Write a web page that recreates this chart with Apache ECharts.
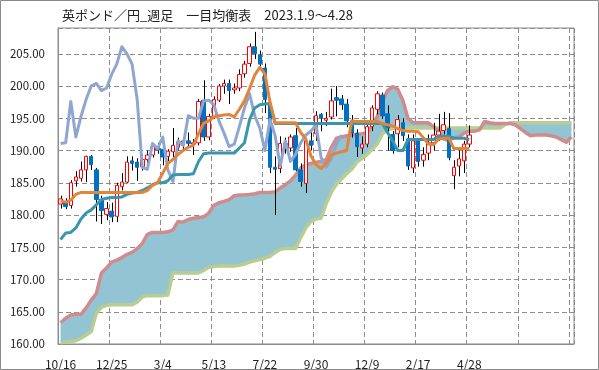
<!DOCTYPE html>
<html><head><meta charset="utf-8">
<script src="https://cdn.jsdelivr.net/npm/echarts@6/dist/echarts.min.js"></script>
<style>html,body{margin:0;padding:0;background:#fff}#c{width:599px;height:370px}</style>
</head><body><div id="c"></div>
<script>
// x-axis tick labels (every 10 weeks from 2023/10/16)
const tickLabels = ['10/16','12/25','3/4','5/13','7/22','9/30','12/9','2/17','4/28'];
const totalSlots = 101;

// weekly candles, index 0 = 10/16
const opens  = [181.7,182.0,181.5,185.3,185.7,187.0,189.1,187.0,182.4,180.1,180.6,179.8,184.4,185.1,188.4,188.2,187.5,188.6,189.3,190.6,
                190.2,189.1,189.8,190.5,190.9,191.5,191.0,191.2,197.8,192.1,195.2,197.8,200.0,200.4,199.4,199.7,201.9,203.5,206.1,204.8,
                202.8,197.0,187.4,187.2,191.1,190.4,192.3,187.0,184.9,191.5,192.6,195.6,194.7,195.2,198.2,198.0,197.2,194.6,192.7,190.4,
                191.0,193.7,196.4,198.6,195.7,192.5,192.6,194.3,191.8,187.3,191.5,188.5,189.6,191.2,192.4,193.1,193.4,186.1,187.6,188.4,191.0];
const highs  = [183.0,182.6,185.4,186.8,188.3,189.2,189.3,187.3,183.0,182.0,181.9,185.0,186.5,189.1,189.1,188.8,189.4,190.0,191.0,191.2,
                190.6,190.2,193.5,192.0,192.1,192.8,191.8,198.0,200.9,195.7,198.4,200.3,201.0,201.0,200.4,202.6,203.9,206.6,208.4,205.5,
                203.5,198.0,189.1,192.2,192.0,192.5,193.5,188.0,191.9,193.0,196.1,195.8,196.0,199.6,200.0,198.6,198.0,195.5,193.3,192.2,
                194.4,197.0,199.2,199.0,197.0,193.0,195.5,195.0,192.5,192.5,191.9,190.5,192.5,194.3,195.7,196.0,195.8,188.5,190.0,191.5,193.9];
const lows   = [181.0,180.9,181.0,184.4,185.2,185.1,187.0,179.0,178.6,179.2,178.9,178.9,183.8,184.9,186.9,185.3,186.9,188.0,188.9,189.5,
                187.7,188.3,189.0,190.0,190.2,190.4,189.3,190.8,191.5,191.6,194.9,197.5,198.8,197.2,198.8,199.2,201.3,203.0,204.2,202.8,
                195.8,186.5,180.0,186.5,189.5,189.8,186.8,184.4,183.4,190.0,191.5,193.0,193.8,194.8,195.3,196.3,193.6,192.0,189.0,189.5,
                190.5,193.0,195.6,194.9,190.0,189.5,190.5,191.5,187.0,186.5,187.5,187.5,188.5,190.0,191.5,192.5,188.5,184.0,186.0,186.5,190.5];
const closes = [182.5,181.3,185.0,185.9,187.0,189.1,187.8,182.4,180.7,181.0,179.7,184.6,185.1,188.2,188.0,187.4,188.6,189.3,190.6,190.1,
                189.0,189.9,190.8,191.3,191.5,191.1,191.2,197.6,192.1,195.3,197.9,200.0,200.4,199.3,199.7,201.8,203.4,206.1,205.0,203.4,
                197.9,187.4,187.1,191.1,190.3,192.1,187.0,185.2,191.5,190.8,195.4,195.0,195.0,197.7,197.8,197.1,194.6,192.7,190.6,191.0,
                193.7,196.6,198.8,195.4,193.5,190.0,194.8,192.3,187.6,191.5,188.3,189.4,191.2,192.4,193.0,194.0,188.9,187.4,188.7,191.0,192.4];

// Ichimoku lines
const tenkan = [182.2,182.0,182.3,183.2,183.5,183.5,183.5,183.5,183.5,183.5,183.5,183.5,183.5,183.5,183.5,183.5,183.5,183.8,184.6,185.0,
                186.5,188.0,188.6,189.4,190.0,190.5,190.8,192.6,194.2,194.6,195.2,195.4,195.5,195.6,195.2,196.4,197.7,199.6,201.7,202.9,
                201.9,197.5,194.3,194.3,194.3,194.3,194.3,192.8,191.8,189.2,187.8,187.2,188.0,189.3,189.6,189.8,190.0,194.6,194.5,194.5,
                194.5,194.5,194.5,194.2,194.0,193.8,193.4,193.1,193.0,193.0,192.9,192.0,191.0,190.9,191.8,191.9,191.9,190.3,190.3,190.3,190.3];
const kijun  = [176.2,177.2,177.3,178.0,179.4,180.3,180.8,181.6,182.4,182.6,182.7,182.7,182.8,183.2,183.4,183.5,183.8,184.2,184.7,185.0,
                185.0,185.3,186.2,186.3,186.3,186.3,186.4,188.3,189.5,189.6,189.6,189.6,189.6,189.6,189.6,190.4,191.2,194.8,196.6,197.1,
                197.2,197.3,194.2,194.2,194.2,194.2,194.2,194.2,194.2,194.2,194.2,194.2,194.2,194.2,194.2,194.2,194.2,194.2,194.2,194.2,
                194.2,194.2,194.2,194.2,192.8,191.5,190.0,190.0,191.7,191.7,191.7,191.7,191.7,191.7,192.2,192.2,192.2,191.9,191.9,191.9,191.7];
const chikou = [191.1,191.2,197.6,192.1,195.3,197.9,200.0,200.4,199.3,199.7,201.8,203.4,206.1,205.0,203.4,197.9,187.4,187.1,191.1,190.3,
                192.1,187.0,185.2,191.5,190.8,195.4,195.0,195.0,197.7,197.8,197.1,194.6,192.7,190.6,191.0,193.7,196.6,198.8,195.4,193.5,
                190.0,194.8,192.3,187.6,191.5,188.3,189.4,191.2,192.4,193.0,194.0,188.9,187.4,188.7,191.0,192.4];
const spanA  = [163.3,164.0,164.5,164.6,164.6,165.6,166.8,167.8,171.0,171.8,172.7,173.0,173.4,173.9,174.2,174.8,175.6,177.0,177.3,177.3,
                177.3,177.4,177.7,179.0,178.9,179.3,179.5,179.6,179.7,180.3,181.5,181.9,182.1,182.4,183.0,183.1,183.1,183.2,183.3,183.5,
                183.5,183.5,183.6,184.2,184.7,185.3,186.2,187.3,187.8,188.0,188.2,188.3,188.6,190.5,191.9,192.1,192.3,192.4,192.5,192.6,
                192.8,193.8,195.3,197.6,199.3,199.9,199.5,197.8,195.0,194.3,194.3,194.3,194.3,193.7,193.0,191.8,191.5,192.0,192.1,192.7,
                193.0,193.0,193.2,194.5,194.3,194.2,194.2,194.2,194.2,194.0,193.4,192.8,192.3,192.4,192.4,192.4,192.3,192.1,191.7,191.3,192.1];
const spanB  = [160.2,160.3,160.4,160.5,160.9,161.4,161.9,164.8,165.7,166.0,166.1,166.1,166.1,166.1,166.1,166.5,167.3,167.5,167.5,167.5,
                167.5,167.6,171.0,171.0,171.0,171.0,171.0,171.0,171.4,171.9,172.0,172.1,172.1,172.1,172.1,172.2,172.4,172.7,172.9,173.1,
                173.3,173.6,174.2,174.7,174.8,174.8,174.8,176.5,178.0,179.0,179.4,179.5,181.8,183.5,184.8,185.6,186.4,187.1,188.2,188.8,
                189.4,190.2,191.0,192.6,193.2,193.4,193.5,193.5,193.5,193.5,193.5,193.5,193.5,193.5,193.5,193.5,193.5,193.5,193.5,193.5,
                193.5,193.5,193.5,193.5,193.5,193.5,193.5,194.0,194.3,194.3,194.3,194.3,194.3,194.3,194.3,194.3,194.3,194.3,194.3,194.3,194.3];

const categories = Array.from({length: totalSlots}, (_, k) => String(k));
const bodies = opens.map((o, k) => [o, closes[k], Math.min(o, closes[k]), Math.max(o, closes[k])]);
const wicks = highs.map((h, k) => [k, lows[k], h]);
const cloudBase = spanA.map((a, k) => Math.min(a, spanB[k]));
const cloudDiff = spanA.map((a, k) => +Math.abs(a - spanB[k]).toFixed(2));

const gridCol = '#8c8c8c';
const chart = echarts.init(document.getElementById('c'), null, {renderer: 'canvas'});
chart.setOption({
  animation: false,
  backgroundColor: '#fff',
  title: {
    text: '英ポンド／円_週足　一目均衡表　2023.1.9～4.28',
    left: 57, top: 4,
    textStyle: {fontFamily: 'Noto Sans CJK JP', fontSize: 13, fontWeight: 'normal', color: '#222'}
  },
  graphic: [{type: 'rect', silent: true, z: 100,
    shape: {x: 0.5, y: 0.5, width: 598, height: 369},
    style: {fill: null, stroke: '#8a8a8a', lineWidth: 1}}],
  grid: {left: 58, top: 28, width: 516, height: 316, show: true, borderColor: gridCol, borderWidth: 1, backgroundColor: 'transparent'},
  xAxis: {
    type: 'category', data: categories, boundaryGap: true,
    axisLine: {lineStyle: {color: gridCol, width: 1}},
    axisTick: {show: false},
    axisLabel: {
      interval: 9, margin: 14, color: '#222', fontSize: 12, fontFamily: 'Noto Sans CJK JP',
      formatter: (v, i) => (i % 10 === 0 && tickLabels[i / 10]) ? tickLabels[i / 10] : ''
    },
    splitLine: {show: true, interval: 9, lineStyle: {color: gridCol, type: [5, 3], width: 1}}
  },
  yAxis: {
    type: 'value', min: 160, max: 209, interval: 5,
    axisLine: {show: true, lineStyle: {color: gridCol, width: 1}},
    axisTick: {show: false},
    axisLabel: {margin: 13, color: '#222', fontSize: 11.5, fontFamily: 'Noto Sans CJK JP',
      showMaxLabel: false, formatter: v => v.toFixed(2)},
    splitLine: {show: true, lineStyle: {color: gridCol, type: [5, 3], width: 1}}
  },
  series: [
    {name: 'cloudBase', type: 'line', stack: 'cloud', data: cloudBase, symbol: 'none',
      lineStyle: {width: 0, opacity: 0}, z: 1, silent: true},
    {name: 'cloud', type: 'line', stack: 'cloud', data: cloudDiff, symbol: 'none',
      lineStyle: {width: 0, opacity: 0}, areaStyle: {color: '#93C4D4', opacity: 1}, z: 1, silent: true},
    {name: '先行スパンB', type: 'line', data: spanB, symbol: 'none', z: 2,
      lineStyle: {color: '#B9CD91', width: 3.5, join: 'round'}},
    {name: '先行スパンA', type: 'line', data: spanA, symbol: 'none', z: 2,
      lineStyle: {color: '#D08C8C', width: 3.5, join: 'round'}},
    {name: 'wick', type: 'custom', z: 3, data: wicks, encode: {x: 0, y: [1, 2]},
      renderItem: (params, api) => {
        const lo = api.coord([api.value(0), api.value(1)]);
        const hi = api.coord([api.value(0), api.value(2)]);
        const x = Math.round(lo[0]) + 0.5;
        return {type: 'line', shape: {x1: x, y1: lo[1], x2: x, y2: hi[1]},
          style: {stroke: '#000', lineWidth: 1}};
      }},
    {name: '週足', type: 'candlestick', z: 4, data: bodies, barWidth: 4,
      itemStyle: {color: '#ffffff', color0: '#0070C0', borderColor: '#FF0000', borderColor0: '#0070C0', borderWidth: 1}},
    {name: '遅行スパン', type: 'line', data: chikou, symbol: 'none', z: 5,
      lineStyle: {color: '#8FA6D0', width: 3, join: 'round'}},
    {name: '基準線', type: 'line', data: kijun, symbol: 'none', z: 5,
      lineStyle: {color: '#3A96AA', width: 3, join: 'round'}},
    {name: '転換線', type: 'line', data: tenkan, symbol: 'none', z: 5,
      lineStyle: {color: '#E2843A', width: 3, join: 'round'}}
  ]
});
</script>
</body></html>
